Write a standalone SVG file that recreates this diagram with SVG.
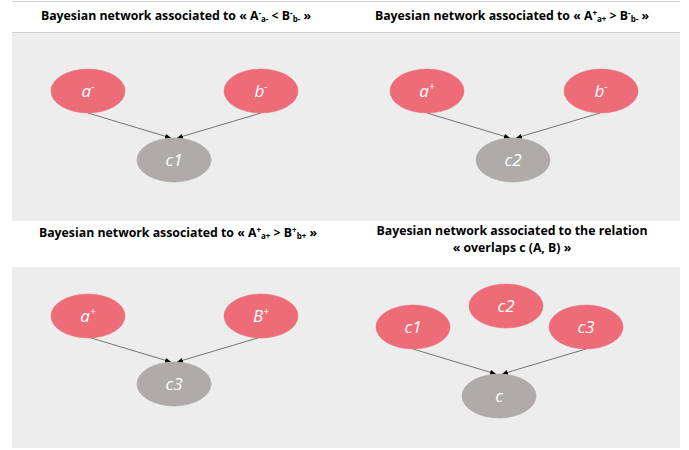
<svg xmlns="http://www.w3.org/2000/svg" width="689" height="450" viewBox="0 0 689 450">
<style>
.bg{fill:#ededed}
.edge{stroke:#d0d0d0;stroke-width:1}
.title{font-family:"Open Sans","Liberation Sans",sans-serif;font-weight:bold;font-size:12.3px;fill:#000;text-anchor:middle}
.pink{fill:#ee6c78;stroke:#e06470;stroke-width:0.5}
.grey{fill:#afabab;stroke:#a5a1a1;stroke-width:0.5}
.lbl{font-family:"Open Sans","Liberation Sans",sans-serif;font-style:italic;font-size:17px;fill:#fff;text-anchor:middle}
.sup{font-size:10px}
.conn{stroke:#404040;stroke-width:0.7;fill:none;marker-end:url(#ah)}
</style>
<defs>
<marker id="ah" markerWidth="8" markerHeight="6" refX="6" refY="3" orient="auto" markerUnits="userSpaceOnUse">
<path d="M0,0.5 L6,3 L0,5.5 Z" fill="#000"/>
</marker>
</defs>
<rect width="689" height="450" fill="#fff"/>
<line x1="12" y1="1.5" x2="680" y2="1.5" stroke="#cfcfcf" stroke-width="1"/>
<rect class="bg" x="12" y="32" width="668" height="189"/>
<line class="edge" x1="12" y1="32.5" x2="680" y2="32.5"/>
<rect class="bg" x="12" y="267" width="668" height="181"/>

<g id="titles">
<text class="title" x="176" y="20">Bayesian network associated to « A<tspan font-size="8" dy="-4">-</tspan><tspan font-size="8" dy="6">a-</tspan><tspan dy="-2"> &lt; B</tspan><tspan font-size="8" dy="-4">-</tspan><tspan font-size="8" dy="6">b-</tspan><tspan dy="-2"> »</tspan></text>
<text class="title" x="512" y="20">Bayesian network associated to « A<tspan font-size="8" dy="-4">+</tspan><tspan font-size="8" dy="6">a+</tspan><tspan dy="-2"> &gt; B</tspan><tspan font-size="8" dy="-4">-</tspan><tspan font-size="8" dy="6">b-</tspan><tspan dy="-2">  »</tspan></text>
<text class="title" x="178" y="237">Bayesian network associated to « A<tspan font-size="8" dy="-4">+</tspan><tspan font-size="8" dy="6">a+</tspan><tspan dy="-2"> &gt; B</tspan><tspan font-size="8" dy="-4">+</tspan><tspan font-size="8" dy="6">b+</tspan><tspan dy="-2"> »</tspan></text>
<text class="title" x="512" y="234.5">Bayesian network associated to the relation</text>
<text class="title" x="512" y="252">« overlaps c (A, B) »</text>
</g>

<g id="connectors">
<line class="conn" x1="88" y1="113" x2="171" y2="138"/>
<line class="conn" x1="261" y1="113" x2="177" y2="138"/>
<line class="conn" x1="427" y1="113" x2="510" y2="138"/>
<line class="conn" x1="600" y1="113" x2="516" y2="138"/>
<line class="conn" x1="88" y1="337" x2="171" y2="362"/>
<line class="conn" x1="261" y1="337" x2="177" y2="362"/>
<line class="conn" x1="413" y1="349" x2="496" y2="374"/>
<line class="conn" x1="586" y1="349" x2="502" y2="374"/>
</g>

<g id="p1-a"><ellipse class="pink" cx="88" cy="91" rx="37" ry="22"/><text class="lbl" x="88" y="97">a<tspan class="sup" dy="-7">-</tspan></text></g>
<g id="p1-b"><ellipse class="pink" cx="261" cy="91" rx="37" ry="22"/><text class="lbl" x="261" y="97">b<tspan class="sup" dy="-7">-</tspan></text></g>
<g id="p1-c1"><ellipse class="grey" cx="174" cy="160" rx="37" ry="22"/><text class="lbl" x="174" y="166">c1</text></g>

<g id="p2-a"><ellipse class="pink" cx="427" cy="91" rx="37" ry="22"/><text class="lbl" x="427" y="97">a<tspan class="sup" dy="-7">+</tspan></text></g>
<g id="p2-b"><ellipse class="pink" cx="601" cy="91" rx="37" ry="22"/><text class="lbl" x="601" y="97">b<tspan class="sup" dy="-7">-</tspan></text></g>
<g id="p2-c2"><ellipse class="grey" cx="513" cy="160" rx="37" ry="22"/><text class="lbl" x="513" y="166">c2</text></g>

<g id="p3-a"><ellipse class="pink" cx="88" cy="316" rx="37" ry="22"/><text class="lbl" x="88" y="322">a<tspan class="sup" dy="-7">+</tspan></text></g>
<g id="p3-b"><ellipse class="pink" cx="261" cy="316" rx="37" ry="22"/><text class="lbl" x="261" y="322">B<tspan class="sup" dy="-7">+</tspan></text></g>
<g id="p3-c3"><ellipse class="grey" cx="174" cy="384" rx="37" ry="22"/><text class="lbl" x="174" y="390">c3</text></g>

<g id="p4-c1"><ellipse class="pink" cx="413" cy="327" rx="37" ry="22"/><text class="lbl" x="413" y="333">c1</text></g>
<g id="p4-c2"><ellipse class="pink" cx="506" cy="306" rx="37" ry="22"/><text class="lbl" x="506" y="312">c2</text></g>
<g id="p4-c3"><ellipse class="pink" cx="586" cy="327" rx="37" ry="22"/><text class="lbl" x="586" y="333">c3</text></g>
<g id="p4-c"><ellipse class="grey" cx="499" cy="396" rx="37" ry="22"/><text class="lbl" x="499" y="402">c</text></g>
</svg>
